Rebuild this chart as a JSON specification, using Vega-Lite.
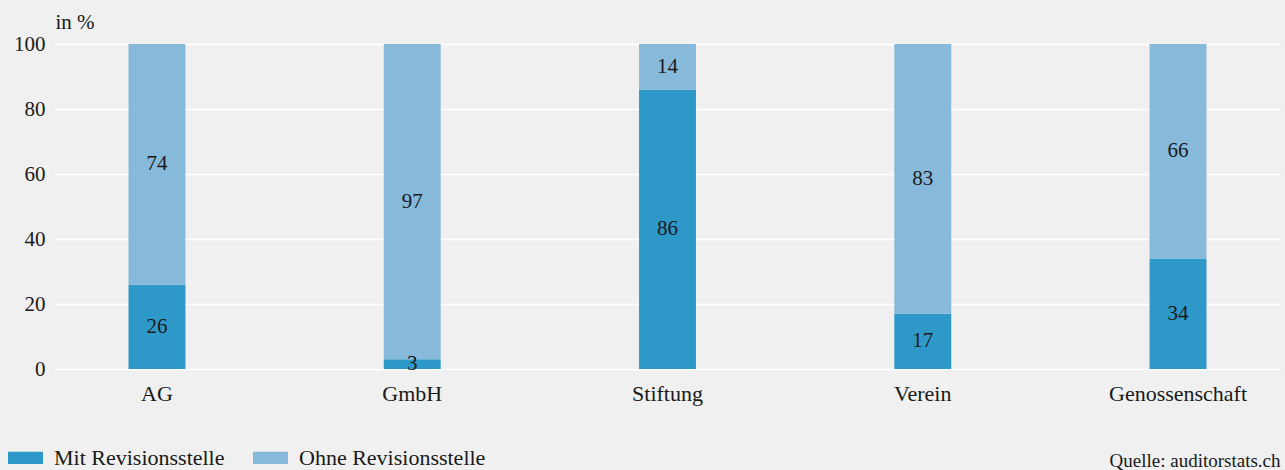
{
  "$schema": "https://vega.github.io/schema/vega-lite/v6.json",
  "width": 1225,
  "height": 325,
  "autosize": {"type": "none"},
  "padding": {"left": 55, "top": 44, "right": 5, "bottom": 101},
  "background": "#eff0ef",
  "config": {
    "view": {"stroke": null},
    "font": "Liberation Serif",
    "text": {"font": "Liberation Serif"}
  },
  "data": {
    "values": [
      {"typ": "AG", "kat": "Mit Revisionsstelle", "wert": 26, "ord": 1},
      {"typ": "AG", "kat": "Ohne Revisionsstelle", "wert": 74, "ord": 2},
      {"typ": "GmbH", "kat": "Mit Revisionsstelle", "wert": 3, "ord": 1},
      {"typ": "GmbH", "kat": "Ohne Revisionsstelle", "wert": 97, "ord": 2},
      {"typ": "Stiftung", "kat": "Mit Revisionsstelle", "wert": 86, "ord": 1},
      {"typ": "Stiftung", "kat": "Ohne Revisionsstelle", "wert": 14, "ord": 2},
      {"typ": "Verein", "kat": "Mit Revisionsstelle", "wert": 17, "ord": 1},
      {"typ": "Verein", "kat": "Ohne Revisionsstelle", "wert": 83, "ord": 2},
      {"typ": "Genossenschaft", "kat": "Mit Revisionsstelle", "wert": 34, "ord": 1},
      {"typ": "Genossenschaft", "kat": "Ohne Revisionsstelle", "wert": 66, "ord": 2}
    ]
  },
  "encoding": {
    "x": {
      "field": "typ",
      "type": "nominal",
      "sort": ["AG", "GmbH", "Stiftung", "Verein", "Genossenschaft"],
      "scale": {"paddingInner": 0.777, "paddingOuter": 0.288},
      "axis": {
        "title": "Quelle: auditorstats.ch",
        "titleAnchor": "end",
        "titleAlign": "right",
        "titleBaseline": "alphabetic",
        "titleX": 1225,
        "titleY": 97,
        "titleFontSize": 19,
        "titleFontWeight": "normal",
        "titleColor": "#1a1a1a",
        "labelAngle": 0,
        "labelFontSize": 22,
        "labelColor": "#1a1a1a",
        "labelPadding": 14,
        "ticks": false,
        "domain": false
      }
    },
    "y": {
      "field": "wert",
      "type": "quantitative",
      "stack": "zero",
      "scale": {"domain": [0, 100], "nice": false},
      "axis": {
        "values": [0, 20, 40, 60, 80, 100],
        "title": "in %",
        "titleAngle": 0,
        "titleAlign": "left",
        "titleBaseline": "alphabetic",
        "titleX": 0,
        "titleY": -16,
        "titleFontSize": 21,
        "titleFontWeight": "normal",
        "titleColor": "#1a1a1a",
        "labelFontSize": 21,
        "labelColor": "#1a1a1a",
        "labelPadding": 10,
        "ticks": false,
        "domain": false,
        "grid": true,
        "gridColor": "#ffffff",
        "gridWidth": 1.5
      }
    },
    "order": {"field": "ord", "type": "quantitative"}
  },
  "layer": [
    {
      "mark": {"type": "bar"},
      "encoding": {
        "color": {
          "field": "kat",
          "type": "nominal",
          "scale": {
            "domain": ["Mit Revisionsstelle", "Ohne Revisionsstelle"],
            "range": ["#2e99c9", "#87b9da"]
          },
          "legend": {
            "title": null,
            "orient": "none",
            "legendX": -47,
            "legendY": 396,
            "direction": "horizontal",
            "columns": 2,
            "symbolType": "M-1,-0.35L1,-0.35L1,0.35L-1,0.35Z",
            "symbolSize": 1225,
            "symbolStrokeWidth": 0,
            "labelFontSize": 22,
            "labelColor": "#1a1a1a",
            "labelOffset": 11,
            "columnPadding": 28,
            "labelLimit": 400
          }
        }
      }
    },
    {
      "mark": {"type": "text", "fontSize": 21, "color": "#1a1a1a", "baseline": "middle"},
      "encoding": {
        "y": {"field": "wert", "type": "quantitative", "stack": "zero", "bandPosition": 0.5},
        "text": {"field": "wert", "type": "quantitative"}
      }
    }
  ]
}
